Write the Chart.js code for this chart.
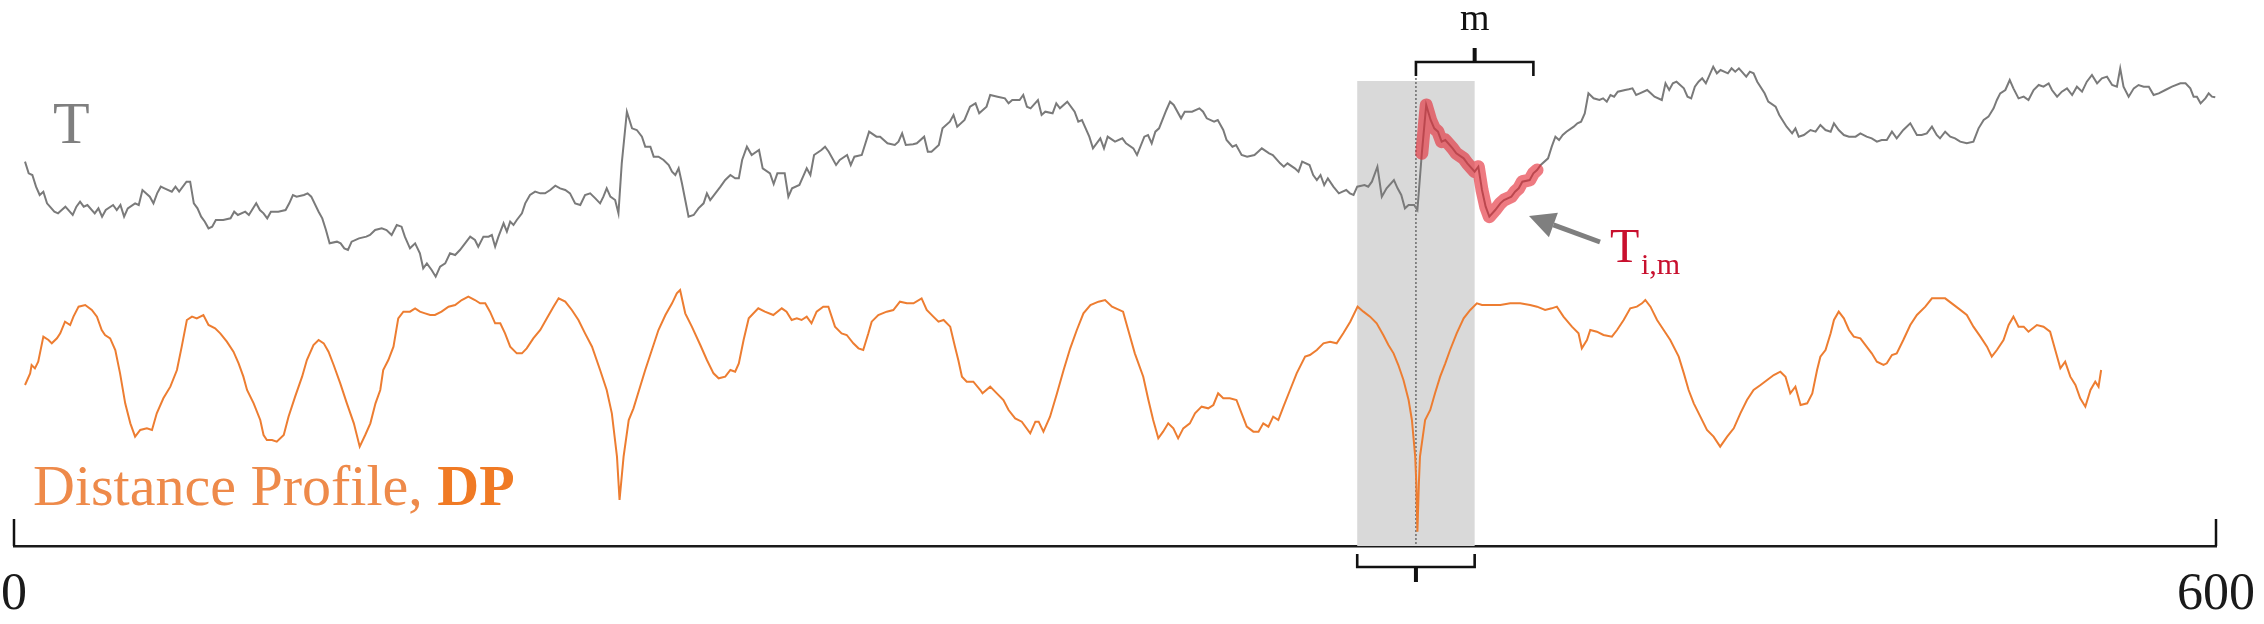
<!DOCTYPE html>
<html>
<head>
<meta charset="utf-8">
<title>Distance Profile</title>
<script src="https://cdn.jsdelivr.net/npm/chart.js@4/dist/chart.umd.min.js"></script>
<style>
  html, body { margin: 0; padding: 0; background: #fff; }
  #wrap { width: 2264px; height: 624px; position: relative; }
</style>
</head>
<body>
<div id="wrap"><canvas id="dpChart"></canvas></div>
<script>
// Time series T: sample index and value
const tIndex = [
  3, 4, 5, 6, 7, 8, 9, 11, 12, 13, 14, 16, 17, 18, 19, 20, 22, 23, 24, 25, 27, 28, 29, 30, 31, 33, 34, 35, 37, 38,
  39, 40, 41, 43, 44, 45, 47, 48, 49, 50, 51, 52, 53, 54, 55, 57, 59, 60, 61, 63, 64, 66, 67, 68, 69, 70, 72, 74, 75, 76,
  77, 79, 80, 81, 83, 84, 85, 86, 88, 89, 90, 91, 92, 94, 96, 97,
  98.4, 100.2, 101.5, 102.9, 104.3, 105.6, 106.5, 107.9, 109.3, 110.6, 111.5, 112.5, 113.8, 114.9, 116.1, 117.5, 118.8, 120.2,
  121.5, 122.9, 124.3, 125.6, 126.5, 127.9, 129.3, 130.2, 131.1, 132, 133.4, 134.3, 135.2, 136.1, 137, 138.4, 139.3, 140.6,
  142, 143.4, 144.7, 146.1, 147.5, 148.8, 150.2, 151.5, 152.9, 154.3, 155.6, 157, 158.4, 159.7, 160.6, 161.5, 162.5, 163.8,
  164.7, 165.6, 167, 168.4, 169.7, 171.1, 172, 173.4, 174.3, 175.6, 177, 178.4, 179.3, 180.2, 181.1, 182, 182.9, 183.8,
  185.2, 186.5, 187.9, 188.8, 189.7, 191.1, 192.5, 193.8, 195.2, 196.5, 197.5, 198.4, 199.7,
  201, 203, 204, 206, 207, 208, 210, 211, 212, 214, 215, 216, 217, 218, 220, 221, 222, 224, 225, 227, 228, 229, 231, 233,
  235, 236, 238, 240, 241, 242, 243, 245, 246, 248, 249, 250, 252, 253, 255, 256, 257, 259, 260.5, 262, 263, 265, 266, 268,
  270, 271, 272, 274, 275, 276, 277, 279, 280, 281, 283, 284, 285, 287, 289, 290, 291, 293, 294, 296, 297, 298, 300,
  302, 303, 305, 306, 308, 309, 310, 311, 312, 314, 315, 316, 318, 319, 321, 323, 324, 325, 327, 328, 329.5, 330.4, 332, 333,
  334.5, 336, 338, 339, 340, 342, 343, 345, 346, 347, 349, 350, 351, 353, 354, 355, 356, 357, 358, 359.5, 361, 362, 363, 364,
  365, 366, 368, 369, 370, 371.5, 372.7, 374, 376, 377, 378, 379, 380, 381.5, 382.4, 383.6, 384.8, 386, 387, 388, 389, 390,
  392, 393, 395, 396, 398, 399, 400, 401, 402,
  403.6, 405, 406, 408, 409, 410, 411, 413, 414, 415, 416, 418, 419, 420, 421, 422, 423, 425, 426, 427, 428, 429, 430.4, 432,
  433, 434, 435, 436, 437, 439, 440, 441, 442, 443, 445, 446, 447, 449, 450, 451, 452, 453, 455, 456, 457, 458, 459, 460,
  461, 463, 464, 465, 467, 468, 469, 470, 472, 473, 474, 475, 477, 478, 480, 481, 483, 484.5, 485.4, 486.3, 487.7, 489.5,
  490.9, 492.2, 493.6, 495, 495.9, 497.2, 498.6, 500, 501.8, 503.1,
  504.8, 506.2, 507.6, 508.9, 510.3, 511.7, 513, 514.8, 516.7, 518.5, 519.8, 521.2, 522.6, 523.9, 524.8, 526.2, 527.6, 528.9,
  530.3, 532.1, 533.9, 535.3, 536.7, 538, 539.4, 540.3, 541.2, 542.6, 543.8, 544.8, 546.2, 547.6, 548.9, 550.3, 551.7, 553,
  554.4, 555.3, 556.7, 558, 559.4, 560.8, 562.1, 563.5, 564.8, 566.2, 567.6, 568.9, 570.3, 571.7, 573, 573.9, 574.8, 576.2,
  577.6, 578.9, 580.3, 581.7, 583, 584.4, 586.2, 588, 590.3, 591.7, 593, 593.9, 594.8, 595.8, 597.1, 598, 598.9, 599.8
];
const tValue = [
  35.5, 32, 31.5, 28, 25.5, 26.5, 23, 20.5, 20, 21, 22, 19.5, 22, 23.5, 22, 22.5, 20, 21.5, 19, 21, 22.5, 21, 22.5, 19, 21.5, 23, 22.5, 27, 25, 23,
  26, 28, 27.5, 26.5, 28, 26.5, 29.5, 29.5, 23, 21.5, 19, 17.5, 15.5, 16, 18, 18, 18.5, 20.5, 19.5, 20.5, 19.5, 23, 21, 20, 18.5, 20.5, 20.5, 21, 23, 25.5,
  25, 25.5, 26, 25, 20.5, 18.5, 15, 11, 11.5, 11, 9.5, 9, 11.5, 12.5, 13, 13.5,
  15, 15.5, 15, 13.5, 16.5, 16, 13, 9.5, 11, 8, 3.5, 5, 3, 1, 4, 5, 8, 7.5,
  9, 11, 13, 12, 10, 13, 13, 13.5, 10, 13, 17, 14.5, 17.5, 16.5, 18, 20, 23, 25.5,
  26.5, 26, 26, 27, 28.3, 27.5, 27, 26, 23, 22.5, 25.5, 26, 24.5, 23, 25, 27.5, 25, 24,
  20, 35, 50.5, 45.5, 45, 43, 40, 40, 37, 37, 36, 34.5, 32.5, 31.5, 33.5, 29, 24, 19,
  19.5, 21.5, 23, 26, 24, 26, 28, 30, 31.5, 30.5, 30.5, 36, 40,
  37.5, 39, 33.5, 32, 28.8, 32, 32, 25, 27.5, 28.5, 31, 33.5, 31.5, 37.5, 39, 40, 38.5, 34.5, 36, 37.5, 34.5, 37, 37.5, 44.5,
  43, 43, 41, 40.5, 41.5, 44, 40.5, 40.7, 41, 43, 38.5, 38.5, 40.5, 45.5, 47.5, 49.5, 46, 48, 52, 53, 50, 52, 55.5, 55,
  54.5, 53, 54, 54, 55.5, 52, 51.5, 54, 49.5, 50.5, 50, 53, 51.5, 53.5, 50.5, 47.5, 48, 43, 39.5, 42.5, 39.5, 43, 41.5,
  42.5, 41, 39.5, 37.5, 43, 43.5, 41, 44.5, 45.5, 51, 53.5, 52.5, 48.5, 50.5, 50.5, 51.5, 50.5, 48.5, 47.5, 48, 45, 42, 40, 40.5,
  37.5, 37, 37.5, 38.5, 39.5, 38, 37.5, 35, 34, 35, 33.5, 32.5, 35.5, 34.5, 31.5, 30, 31.5, 28.5, 30.5, 28, 26, 26.5, 27, 26,
  25.5, 28, 28.5, 28, 29.5, 34, 25, 27.5, 30, 27.5, 25.5, 21.5, 22.5, 22.5, 21, 38, 52.5, 48, 45.5, 44.5, 41.5, 42,
  39.5, 38, 36.5, 35, 32.5, 34, 27, 22, 19,
  21, 23, 24, 25, 26.5, 27.5, 29.5, 30, 32, 33, 34.5, 36.5, 40, 43, 42, 43.5, 44.5, 46, 47, 47.5, 50, 56, 54.5, 54,
  54.5, 53.5, 55.5, 55, 56.5, 57, 57.2, 57.5, 55.5, 56, 57, 56, 55, 54, 59, 57, 59, 59.5, 57.5, 55, 54.5, 58, 59.5, 60.5,
  59, 64, 62, 63, 62, 63.5, 62.5, 63.5, 61, 62.5, 62, 59.5, 56, 53.5, 52, 49.5, 46, 44, 45.5, 43, 43.5, 45,
  44.5, 46.5, 45, 44.5, 47, 45, 43.5, 43, 43, 44,
  43, 42.5, 41.5, 42, 42, 44.5, 42.5, 45, 47, 43.5, 43.5, 44, 46, 43.5, 42.5, 44.5, 43, 42.5,
  41.5, 41, 41.5, 45.5, 48, 49, 51.5, 54, 56, 57, 60, 57.5, 54.5, 55, 54, 57, 58.5, 58,
  59, 57, 55, 56.5, 57.5, 55.5, 58, 56.5, 59.5, 61.5, 59, 60.5, 61, 58.5, 58, 63.5, 58, 55,
  57.5, 58.5, 58, 58, 55.5, 56, 57, 58, 59, 59, 57.5, 55, 55, 53, 54.5, 56, 55, 54.8
];

// Distance profile DP: sample index and value
const dpIndex = [
  3, 4.4, 4.8, 5.7, 6.6, 8, 9.4, 10.3, 11.7, 12.6, 13.9, 15.3, 16.2, 17.6, 19.4, 21.2, 22.6, 23.9, 24.8, 26.2, 27.6, 28.9,
  30.3, 31.7, 33, 34.4, 36.2, 37.6, 38.9, 40.7, 42.6, 44.4, 45.7, 47.1, 48.5, 49.8, 51.6, 53, 54.8, 56.2, 58, 59.8, 61.2,
  62.5, 63.5, 65.3, 67.1, 68, 68.9, 70.3, 71.6, 73.5, 74.8, 76.6, 78.5, 79.8, 81.6, 83, 84.4, 85.7, 87.1, 88.9, 90.7, 92.6,
  94.2, 95.7, 97.1, 98.5, 99.8,
  100.6, 102, 103.4, 104.7, 106.1, 107.9, 109.3, 110.6, 112, 113.4, 114.7, 116.5, 118.4, 120.2, 122, 123.8, 125.6, 127,
  128.4, 129.7, 131.1, 132.5, 133.8, 135.2, 137, 138.4, 139.7, 141.5, 143.4, 145.2, 147, 148.4, 150.2, 152, 153.8, 155.6,
  157.5, 159.7, 161.5, 162.9, 164.3, 165, 166.1, 167.5, 168.8, 170.6, 172, 173.8, 175.6, 177.5, 179.3, 180.6, 181.5, 182.9,
  184.7, 187, 188.8, 190.6, 192, 193.8, 195.2, 196.5, 197.5, 198.8, 200.2,
  202.8, 204.6, 206.9, 209.2, 210.5, 211.9, 213.3, 214.6, 216, 217.3, 218.7, 220.5, 221.9, 223.7, 225.5, 226.9, 228.7, 230.1,
  231.4, 232.8, 233.7, 235.5, 237.8, 239.6, 241.4, 243.3, 245.1, 247.3, 248.7, 250.5, 251.9, 253.3, 255.1, 256.4, 257.3,
  258.3, 259.6, 261.4, 263.3, 263.9, 266, 267.8, 269.6, 271, 272.8, 274.6, 276.9, 278.3, 279.2, 280.5, 282.3, 284.2, 286,
  287.8, 289.6, 291.4, 293.3, 295.5, 297.3, 299.2,
  302.2, 303.6, 305.4, 307.7, 309.1, 310.4, 311.8, 313.1, 314.5, 315.9, 317.2, 318.6, 320.4, 321.8, 323.6, 325.4, 326.8,
  328.1, 329.5, 331.3, 333.1, 334.5, 335.9, 337.7, 339.1, 340.4, 341.8, 343.1, 344.5, 345.9, 347.7, 349.5, 351.8, 353.1,
  355, 356.8, 358.6, 360.4, 362.2, 364.1, 366.1, 367.7, 369.5, 371.3, 373.1, 374.5, 375.9, 377.2, 378.6, 380, 380.9, 381.8,
  382.1, 382.4, 382.8, 383.1, 384.5, 385.9, 387.2, 388.6, 390, 391.3, 393.1, 395, 396.8, 398.6, 400, 402.2,
  405, 407.7, 410.4, 413.1, 415, 417.2, 419, 420.4, 422.2, 424.5, 426.3, 427.2, 428.6, 429.5, 431.3, 433.1, 435.4, 436.8,
  438.6, 440.4, 442.2, 443.6, 444.5, 445.9, 447.7, 449.5, 451.3, 453.6, 455, 456.3, 457.7, 459.5, 461.3, 463.1, 464.9,
  466.8, 468.6, 470.4, 472.2, 474, 475.9, 477.7, 479.5, 481.3, 482.7, 484, 485.4, 486.8, 488.6, 490, 491.3, 492.2, 493.6,
  495, 495.9, 497.2, 498.6, 500, 501.3, 503.1,
  504.8, 506.2, 507.6, 509.4, 510.3, 511.7, 513, 514.8, 516.7, 518.5, 520.8, 522.6, 524.4, 526.2, 528, 529.8, 532.1, 533.9,
  535.8, 537.6, 538.9, 540.3, 542.1, 543.5, 544.8, 546.2, 547.6, 548.9, 551.2, 553, 554.8, 556.2, 557.6, 558.9, 560.3,
  561.7, 563, 564.4, 565.8, 567.1, 568, 568.7
];
const dpValue = [
  44.5, 48, 50.5, 49.5, 51.5, 59, 58, 57, 58.5, 60, 63.5, 62.5, 65, 68, 68.5, 67, 65, 61, 59.5, 58.5, 55, 48,
  39, 33, 29, 31, 31.5, 31, 36, 40.5, 44, 49, 56, 64, 65, 64.5, 65.5, 62.5, 61.5, 60, 57.5, 54.5, 51,
  47, 43, 39, 34, 29.5, 28, 28, 27.5, 29.5, 35, 41, 47, 52, 56.5, 58, 57, 54.5, 50.5, 45, 39, 33,
  26, 29.5, 33, 39, 43,
  49, 52, 56, 64.5, 66.5, 66.5, 67.5, 66.5, 66, 65.5, 65.5, 66.5, 68, 68.5, 70, 71, 70, 69,
  69, 66.5, 63, 63, 60, 56, 54, 54, 55.5, 58.5, 61, 64.5, 68, 70.5, 69.5, 67, 64, 60,
  56, 49, 43, 36, 23, 10, 23, 34, 37.5, 44, 49, 55, 61, 65.5, 69, 72, 73, 66,
  62, 56.5, 52, 48, 46.5, 47, 49, 48.5, 51, 58, 64.5,
  67.5, 66.5, 65.5, 67.5, 66.5, 64, 64.5, 64, 65, 63, 66.5, 68, 68, 62, 60, 59.5, 57, 55.5,
  55, 60, 63.5, 65.5, 66.5, 67, 69.5, 69, 69, 70.5, 67, 65, 63.5, 64, 62, 56, 52,
  47, 45.5, 45.5, 43, 42, 44, 42, 40, 37, 34.5, 33.5, 30, 33.5, 33.5, 30.5, 35, 42, 49,
  55.5, 61, 66, 68.5, 69.5, 70, 68,
  66.5, 61, 54, 47, 40, 34, 28.5, 30.5, 33, 31.5, 28.5, 31.5, 33, 36, 38, 37.5, 38.5,
  42, 40.5, 40.5, 40, 36, 32, 30.5, 30.5, 33, 32, 35, 34, 38, 43, 48, 53, 53.5,
  55, 57, 57.5, 57, 60, 63.5, 68, 66.5, 65, 63, 59.5, 56.5, 54, 50.5, 46, 40, 34, 23,
  15, 0.5, 15, 23, 34, 37, 42, 47, 51, 55, 60, 64.5, 67, 69, 68.5, 68.5,
  68.5, 69, 69, 68.5, 68, 67, 67.5, 68, 65, 62, 60, 55.5, 58, 61, 60.5, 59.5, 59, 61,
  64, 67.5, 68, 69, 70, 68, 64, 61, 58, 53, 48, 43, 39, 35, 31, 29, 26,
  29, 31.5, 36, 40, 43, 44.5, 46, 47.5, 48.5, 47, 42, 44, 38.5, 39, 42, 49, 53, 55,
  60, 64, 66.5, 64.5, 61, 59, 58.5,
  56, 54, 51.5, 50.5, 51, 53.5, 54, 58, 62.5, 65.5, 68, 70.5, 70.5, 70.5, 69, 67.5, 65.5, 62,
  59, 56, 53, 55, 58, 62.5, 65, 62, 62, 60.5, 62.5, 62, 60.5, 55, 49.5, 51.5, 47,
  44.5, 40.5, 38, 43, 45.5, 44, 49
];

const xTicks = [0, 600];
const matchIndex = 382;   // i
const windowLength = 32;  // m

const SERIF = "'Liberation Serif', 'Times New Roman', serif";

const tPoints = tIndex.map((x, k) => ({ x: x, y: tValue[k] }));
const dpPoints = dpIndex.map((x, k) => ({ x: x, y: dpValue[k] }));
const subPoints = tPoints.filter(p => p.x > matchIndex + 0.5 && p.x <= matchIndex + windowLength + 1);

// Gray window, brackets, labels and arrow
const annotations = {
  id: 'annotations',
  beforeDatasetsDraw(chart) {
    const { ctx, chartArea, scales: { x } } = chart;
    const left = x.getPixelForValue(matchIndex - windowLength / 2);
    const right = x.getPixelForValue(matchIndex + windowLength / 2);
    const xi = x.getPixelForValue(matchIndex);
    ctx.save();
    ctx.fillStyle = '#d9d9d9';
    ctx.fillRect(left, 81, right - left, chartArea.bottom - 81);
    ctx.strokeStyle = '#5a5a5a';
    ctx.lineWidth = 1.3;
    ctx.setLineDash([2, 2]);
    ctx.beginPath();
    ctx.moveTo(xi, 74);
    ctx.lineTo(xi, chartArea.bottom);
    ctx.stroke();
    ctx.restore();
  },
  afterDraw(chart) {
    const { ctx, chartArea, scales: { x } } = chart;
    const xi = x.getPixelForValue(matchIndex);
    const xm = x.getPixelForValue(matchIndex + windowLength);
    const left = x.getPixelForValue(matchIndex - windowLength / 2);
    const right = x.getPixelForValue(matchIndex + windowLength / 2);
    const bottom = chartArea.bottom;
    ctx.save();
    ctx.strokeStyle = '#111';
    ctx.lineWidth = 2.6;

    // bracket over T_i,m
    ctx.beginPath();
    ctx.moveTo(xi, 76); ctx.lineTo(xi, 62); ctx.lineTo(xm, 62); ctx.lineTo(xm, 76);
    ctx.stroke();
    ctx.lineWidth = 4;
    ctx.beginPath();
    ctx.moveTo((xi + xm) / 2, 62); ctx.lineTo((xi + xm) / 2, 48);
    ctx.stroke();

    // bracket under the gray window
    ctx.lineWidth = 2.6;
    ctx.beginPath();
    ctx.moveTo(left, 554); ctx.lineTo(left, 567); ctx.lineTo(right, 567); ctx.lineTo(right, 554);
    ctx.stroke();
    ctx.lineWidth = 4;
    ctx.beginPath();
    ctx.moveTo(xi, 567); ctx.lineTo(xi, 582);
    ctx.stroke();

    // end ticks of the axis
    ctx.lineWidth = 2.5;
    xTicks.forEach(v => {
      const px = x.getPixelForValue(v);
      ctx.beginPath();
      ctx.moveTo(px, bottom - 27); ctx.lineTo(px, bottom);
      ctx.stroke();
    });

    // m label
    ctx.fillStyle = '#111';
    ctx.font = '38px ' + SERIF;
    ctx.textAlign = 'center';
    ctx.textBaseline = 'alphabetic';
    ctx.fillText('m', (xi + xm) / 2, 30);

    // T label
    ctx.textAlign = 'left';
    ctx.fillStyle = '#7f7f7f';
    ctx.font = '60px ' + SERIF;
    ctx.fillText('T', 53, 143);

    // Distance Profile, DP
    ctx.fillStyle = '#ee8a4a';
    ctx.font = '58px ' + SERIF;
    const lead = 'Distance Profile, ';
    ctx.fillText(lead, 33, 505);
    const w = ctx.measureText(lead).width;
    ctx.fillStyle = '#f07a24';
    ctx.font = 'bold 58px ' + SERIF;
    ctx.fillText('DP', 33 + w, 505);

    // T_i,m label
    ctx.fillStyle = '#c8102e';
    ctx.font = '48px ' + SERIF;
    ctx.fillText('T', 1610, 262);
    ctx.font = '30px ' + SERIF;
    ctx.fillText('i,m', 1641, 274);

    // arrow pointing at the subsequence
    const sx = 1600, sy = 242, tx = 1529, ty = 216;
    const ang = Math.atan2(ty - sy, tx - sx);
    const head = 26, half = 13;
    const bx = tx - head * Math.cos(ang), by = ty - head * Math.sin(ang);
    ctx.strokeStyle = '#7f7f7f';
    ctx.fillStyle = '#7f7f7f';
    ctx.lineWidth = 5;
    ctx.beginPath();
    ctx.moveTo(sx, sy); ctx.lineTo(bx, by);
    ctx.stroke();
    ctx.beginPath();
    ctx.moveTo(tx, ty);
    ctx.lineTo(bx + half * Math.sin(ang), by - half * Math.cos(ang));
    ctx.lineTo(bx - half * Math.sin(ang), by + half * Math.cos(ang));
    ctx.closePath();
    ctx.fill();
    ctx.restore();
  }
};

const ctx = document.getElementById('dpChart');
// eslint-disable-next-line no-unused-vars
const dpChart = new Chart(ctx, {
  type: 'line',
  data: {
    datasets: [{
      label: 'T_i,m',
      data: subPoints,
      yAxisID: 'yT',
      borderColor: 'rgba(228, 40, 52, 0.62)',
      borderWidth: 13,
      borderCapStyle: 'round',
      borderJoinStyle: 'round',
      pointRadius: 0,
      tension: 0,
      order: 0
    }, {
      label: 'T',
      data: tPoints,
      yAxisID: 'yT',
      borderColor: '#7a7a7a',
      borderWidth: 2,
      pointRadius: 0,
      tension: 0,
      order: 1
    }, {
      label: 'DP',
      data: dpPoints,
      yAxisID: 'yDP',
      borderColor: '#ed7d31',
      borderWidth: 2,
      pointRadius: 0,
      tension: 0,
      order: 2
    }]
  },
  options: {
    animation: false,
    responsive: true,
    maintainAspectRatio: false,
    layout: { padding: { left: 14, right: 48, top: 0, bottom: 0 } },
    plugins: {
      legend: { display: false },
      tooltip: { enabled: false }
    },
    scales: {
      x: {
        type: 'linear',
        min: 0,
        max: 600,
        grid: { display: false, drawTicks: false },
        border: { display: true, color: '#1a1a1a', width: 2.5 },
        afterBuildTicks: (scale) => { scale.ticks = xTicks.map(v => ({ value: v })); },
        afterFit: (scale) => {
          scale.height = 78;
          scale.paddingLeft = 0;
          scale.paddingRight = 0;
        },
        ticks: {
          padding: 23,
          color: '#1a1a1a',
          maxRotation: 0,
          autoSkip: false,
          font: { family: SERIF, size: 52, lineHeight: 1 }
        }
      },
      yT: { type: 'linear', display: false, min: -79.8, max: 84 },
      yDP: { type: 'linear', display: false, min: -3.8, max: 160 }
    }
  },
  plugins: [annotations]
});
</script>
</body>
</html>
